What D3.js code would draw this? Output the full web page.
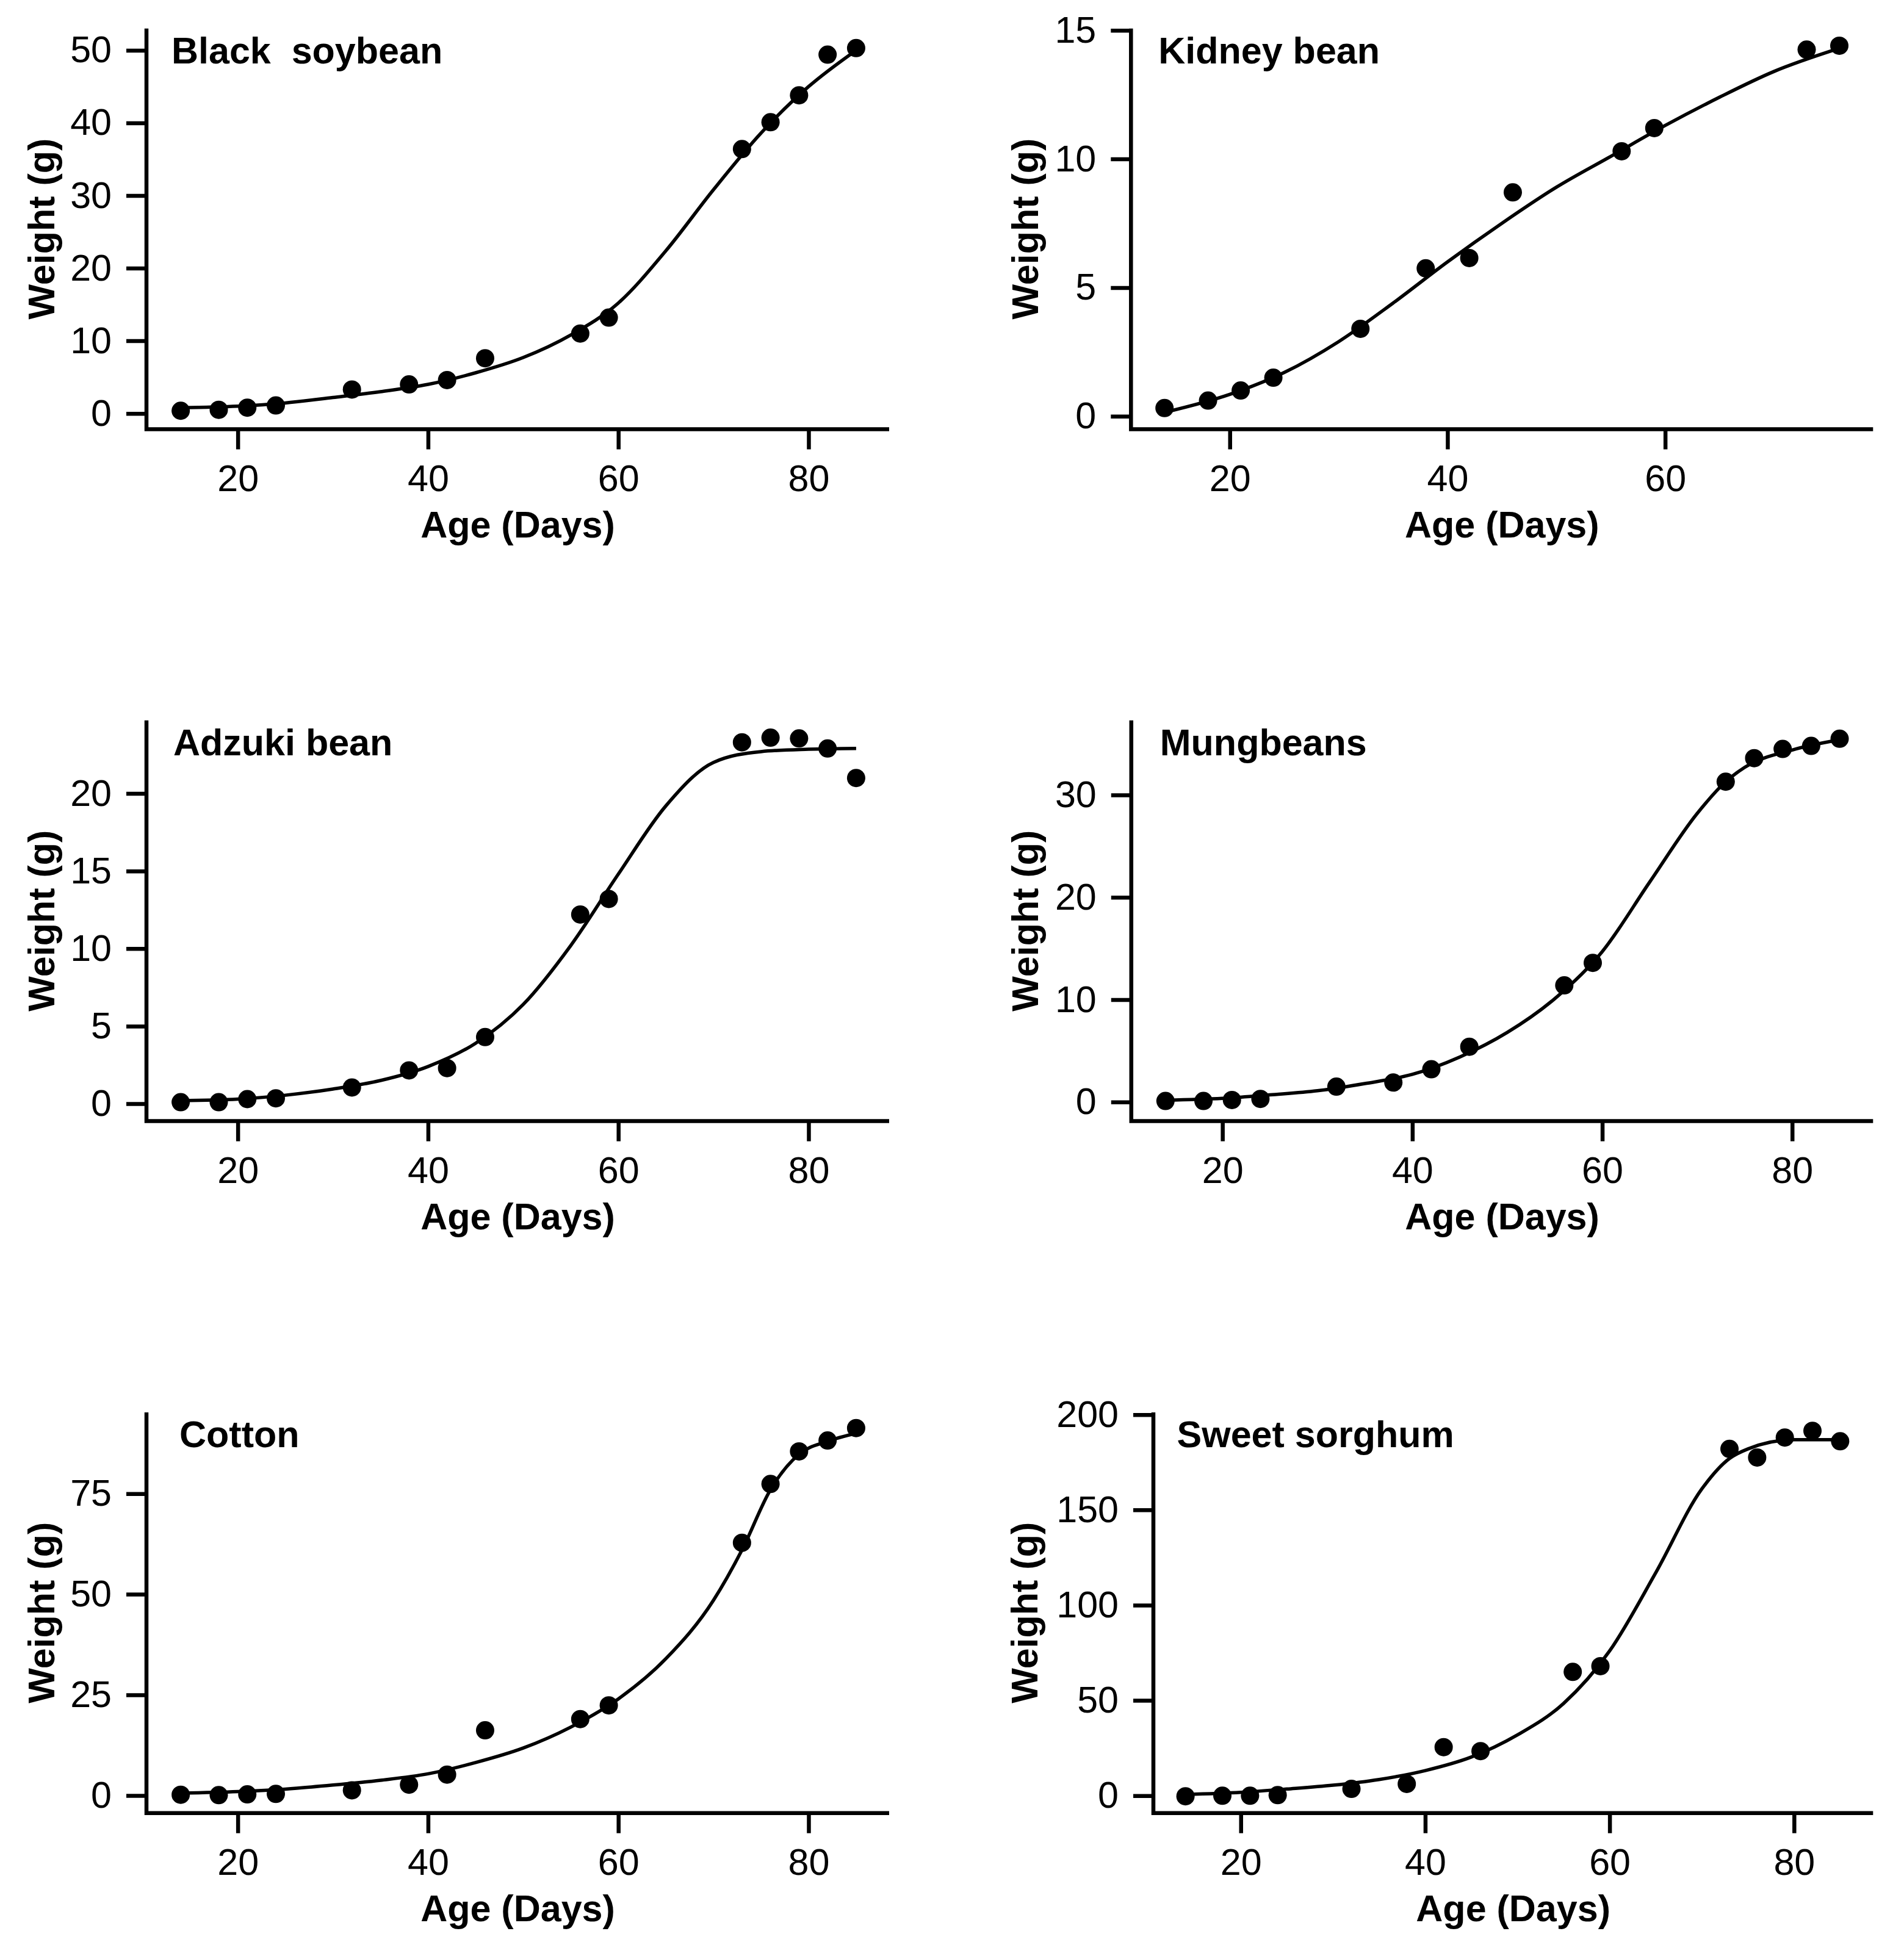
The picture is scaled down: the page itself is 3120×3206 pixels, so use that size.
<!DOCTYPE html>
<html>
<head>
<meta charset="utf-8">
<script src="https://cdn.jsdelivr.net/npm/d3@7"></script>
<style>
  body { margin: 0; background: #ffffff; }
  svg { display: block; }
</style>
</head>
<body>
<svg id="chart" width="3120" height="3206"></svg>
<script>
// ---------------- DATA ----------------
const cropNames = ["Black  soybean", "Kidney bean", "Adzuki bean", "Mungbeans", "Cotton", "Sweet sorghum"];
const xAxisTitle = "Age (Days)";
const yAxisTitle = "Weight (g)";

// sampling ages (days)
const sampleDays = [14, 18, 21, 24, 32, 38, 42, 46, 56, 59, 73, 76, 79, 82, 85];
const kidneySampleDays = [14, 18, 21, 24, 32, 38, 42, 46, 56, 59, 73, 76];

// observed weights (g)
const blackSoybeanWeight = [0.37, 0.5, 0.8, 1.1, 3.3, 4.0, 4.6, 7.6, 11.0, 13.2, 36.4, 40.1, 43.8, 49.4, 50.3];
const kidneyBeanWeight   = [0.32, 0.61, 1.0, 1.5, 3.4, 5.75, 6.15, 8.7, 10.3, 11.2, 14.25, 14.4];
const adzukiBeanWeight   = [0.1, 0.1, 0.3, 0.35, 1.05, 2.15, 2.3, 4.3, 12.2, 13.2, 23.3, 23.6, 23.55, 22.9, 21.0];
const mungbeanWeight     = [0.1, 0.1, 0.2, 0.3, 1.5, 1.9, 3.2, 5.4, 11.4, 13.6, 31.3, 33.6, 34.5, 34.8, 35.5];
const cottonWeight       = [0.2, 0.1, 0.3, 0.4, 1.3, 2.7, 5.2, 16.2, 19.0, 22.4, 62.8, 77.4, 85.5, 88.2, 91.3];
const sorghumWeight      = [-0.3, 0.0, 0.0, 0.3, 3.6, 6.2, 25.5, 23.4, 65.0, 68.0, 182.0, 177.5, 188.0, 191.5, 186.0];

// fitted growth curves (at these ages)
const blackSoybeanFitDays = [14, 20, 25, 30, 35, 40, 45, 50, 55, 60, 65, 70, 75, 80, 85];
const blackSoybeanFit     = [0.8, 1.0, 1.45, 2.2, 3.0, 4.0, 5.6, 7.7, 10.8, 15.2, 22.4, 30.8, 38.6, 45.0, 50.0];
const kidneyBeanFitDays   = [14, 20, 25, 30, 35, 40, 45, 50, 55, 60, 65, 70, 76];
const kidneyBeanFit       = [0.15, 0.85, 1.7, 2.9, 4.4, 6.0, 7.5, 8.9, 10.1, 11.3, 12.4, 13.4, 14.3];
const adzukiBeanFitDays   = [14, 20, 25, 30, 35, 40, 45, 50, 55, 60, 65, 70, 75, 80, 85];
const adzukiBeanFit       = [0.2, 0.3, 0.55, 0.95, 1.5, 2.4, 3.9, 6.4, 10.2, 14.8, 19.2, 22.0, 22.7, 22.85, 22.9];
const mungbeanFitDays     = [14, 20, 25, 30, 35, 40, 45, 50, 55, 60, 65, 70, 73, 75, 80, 85];
const mungbeanFit         = [0.17, 0.35, 0.7, 1.1, 1.8, 2.7, 4.4, 6.8, 10.1, 14.7, 21.5, 28.2, 31.3, 32.7, 34.4, 35.4];
const cottonFitDays       = [14, 20, 25, 30, 35, 40, 45, 50, 55, 60, 65, 70, 73, 76, 79, 82, 85];
const cottonFit           = [0.6, 1.0, 1.6, 2.6, 3.8, 5.4, 8.2, 11.8, 17.0, 24.0, 34.0, 48.5, 61.0, 76.0, 84.8, 88.0, 90.0];
const sorghumFitDays      = [14, 20, 25, 30, 35, 40, 45, 50, 55, 60, 65, 70, 73, 75, 80, 85];
const sorghumFit          = [0.7, 1.8, 3.5, 5.5, 8.5, 13.2, 20.3, 31.9, 48.4, 76, 117, 161, 177, 182, 186.8, 186.8];

// tick labels
const xTicksMain   = [20, 40, 60, 80];
const xTicksKidney = [20, 40, 60];
const yTicksBlackSoybean = [0, 10, 20, 30, 40, 50];
const yTicksKidneyBean   = [0, 5, 10, 15];
const yTicksAdzukiBean   = [0, 5, 10, 15, 20];
const yTicksMungbean     = [0, 10, 20, 30];
const yTicksCotton       = [0, 25, 50, 75];
const yTicksSorghum      = [0, 50, 100, 150, 200];

// ---------------- LAYOUT (positions / styles only) ----------------
const FONT = "'Liberation Sans', Arial, Helvetica, sans-serif";
const FS = 61;
const rowTop    = [46.7, 1180.8, 2314.9];
const rowBottom = [703.5, 1837.6, 2971.7];

const panels = [
  { name: cropNames[0], days: sampleDays, w: blackSoybeanWeight, fd: blackSoybeanFitDays, fv: blackSoybeanFit,
    xt: xTicksMain, yt: yTicksBlackSoybean, row: 0, x0: 240, x1: 1457, xd: [10.4, 88.47], yd: [-2.17, 53.0], tdx: 41, ytx: 88.5 },
  { name: cropNames[1], days: kidneySampleDays, w: kidneyBeanWeight, fd: kidneyBeanFitDays, fv: kidneyBeanFit,
    xt: xTicksKidney, yt: yTicksKidneyBean, row: 0, x0: 1853.3, x1: 3069.3, xd: [10.92, 79.1], yd: [-0.503, 15.07], tdx: 45, ytx: 1701 },
  { name: cropNames[2], days: sampleDays, w: adzukiBeanWeight, fd: adzukiBeanFitDays, fv: adzukiBeanFit,
    xt: xTicksMain, yt: yTicksAdzukiBean, row: 1, x0: 240, x1: 1457, xd: [10.4, 88.47], yd: [-1.12, 24.71], tdx: 44, ytx: 88.5 },
  { name: cropNames[3], days: sampleDays, w: mungbeanWeight, fd: mungbeanFitDays, fv: mungbeanFit,
    xt: xTicksMain, yt: yTicksMungbean, row: 1, x0: 1853.8, x1: 3069.3, xd: [10.4, 88.52], yd: [-1.87, 37.29], tdx: 47, ytx: 1701 },
  { name: cropNames[4], days: sampleDays, w: cottonWeight, fd: cottonFitDays, fv: cottonFit,
    xt: xTicksMain, yt: yTicksCotton, row: 2, x0: 240, x1: 1457, xd: [10.4, 88.47], yd: [-4.35, 95.2], tdx: 54, ytx: 88.5 },
  { name: cropNames[5], days: sampleDays, w: sorghumWeight, fd: sorghumFitDays, fv: sorghumFit,
    xt: xTicksMain, yt: yTicksSorghum, row: 2, x0: 1890, x1: 3069.3, xd: [10.52, 88.57], yd: [-9.1, 201.2], tdx: 38.5, ytx: 1700 }
];

const svg = d3.select("#chart");
svg.append("rect").attr("width", 3120).attr("height", 3206).attr("fill", "#ffffff");

panels.forEach(p => {
  const top = rowTop[p.row], bottom = rowBottom[p.row];
  const x = d3.scaleLinear().domain(p.xd).range([p.x0, p.x1]);
  const y = d3.scaleLinear().domain(p.yd).range([bottom, top]);
  const g = svg.append("g");

  // y axis ticks + labels
  g.append("g")
    .attr("transform", `translate(${p.x0},0)`)
    .call(d3.axisLeft(y).tickValues(p.yt).tickSize(33).tickPadding(24).tickFormat(d3.format("d")))
    .call(a => a.select(".domain").remove())
    .attr("font-family", FONT).attr("font-size", FS)
    .call(a => a.selectAll("line").attr("stroke", "#000").attr("stroke-width", 6.5))
    .call(a => a.selectAll("text").attr("fill", "#000"));

  // x axis ticks + labels
  g.append("g")
    .attr("transform", `translate(0,${bottom})`)
    .call(d3.axisBottom(x).tickValues(p.xt).tickSize(33).tickPadding(25).tickFormat(d3.format("d")))
    .call(a => a.select(".domain").remove())
    .attr("font-family", FONT).attr("font-size", FS)
    .call(a => a.selectAll("line").attr("stroke", "#000").attr("stroke-width", 6.5))
    .call(a => a.selectAll("text").attr("fill", "#000"));

  // L-shaped box
  g.append("path")
    .attr("d", `M${p.x0},${top}L${p.x0},${bottom}L${p.x1},${bottom}`)
    .attr("fill", "none").attr("stroke", "#000").attr("stroke-width", 6.5)
    .attr("stroke-linejoin", "miter").attr("stroke-linecap", "butt");

  // fitted curve
  const fit = p.fd.map((d, i) => [d, p.fv[i]]);
  g.append("path")
    .datum(fit)
    .attr("d", d3.line().x(d => x(d[0])).y(d => y(d[1])).curve(d3.curveMonotoneX))
    .attr("fill", "none").attr("stroke", "#000").attr("stroke-width", 5.5)
    .attr("stroke-linejoin", "round");

  // observed points
  const pts = p.days.map((d, i) => [d, p.w[i]]);
  g.selectAll("circle.pt").data(pts).enter().append("circle")
    .attr("class", "pt")
    .attr("cx", d => x(d[0])).attr("cy", d => y(d[1]))
    .attr("r", 15).attr("fill", "#000");

  // panel title
  g.append("text")
    .attr("x", p.x0 + p.tdx).attr("y", top + 57)
    .attr("font-family", FONT).attr("font-size", FS).attr("font-weight", "bold")
    .style("white-space", "pre").attr("xml:space", "preserve")
    .text(p.name);

  // x axis title
  g.append("text")
    .attr("x", (p.x0 + p.x1) / 2).attr("y", bottom + 177)
    .attr("text-anchor", "middle")
    .attr("font-family", FONT).attr("font-size", FS).attr("font-weight", "bold")
    .text(xAxisTitle);

  // y axis title
  g.append("text")
    .attr("transform", `translate(${p.ytx},${(top + bottom) / 2}) rotate(-90)`)
    .attr("text-anchor", "middle")
    .attr("font-family", FONT).attr("font-size", FS).attr("font-weight", "bold")
    .text(yAxisTitle);
});
</script>
</body>
</html>
